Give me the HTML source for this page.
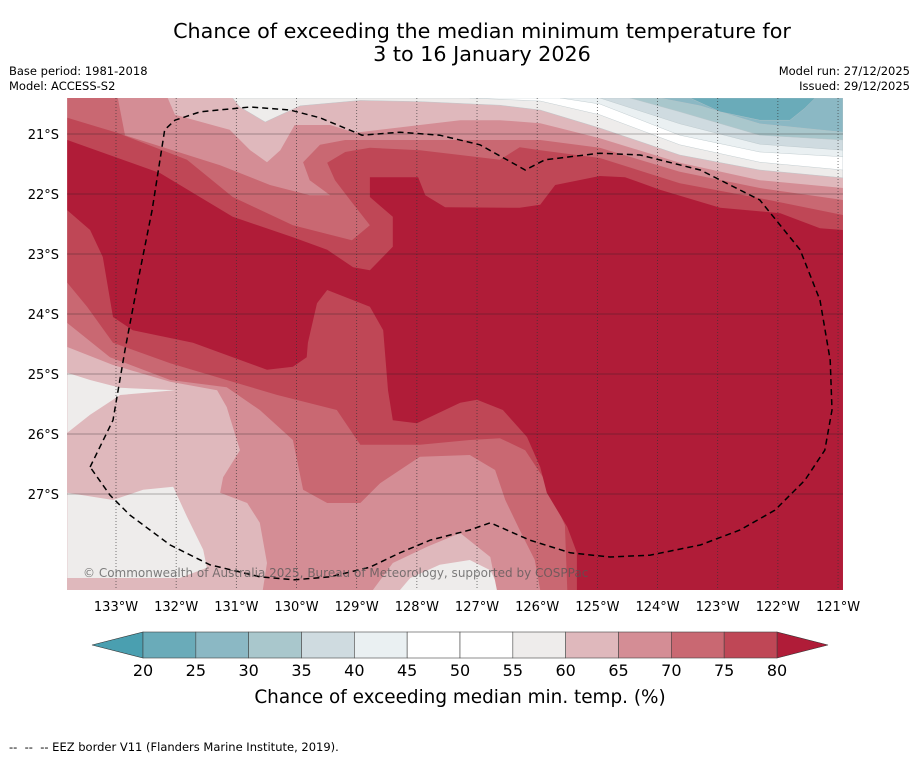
<!DOCTYPE html>
<html><head><meta charset="utf-8"><style>
html,body{margin:0;padding:0;background:#fff;}
svg{display:block;font-family:"DejaVu Sans","Liberation Sans",sans-serif;}
</style></head><body>
<svg id="chart" width="919" height="758" viewBox="0 0 919 758">
<text x="482" y="38" text-anchor="middle" font-size="20.7" fill="#000">Chance of exceeding the median minimum temperature for</text>
<text x="482" y="61" text-anchor="middle" font-size="20.7" fill="#000">3 to 16 January 2026</text>
<text x="9" y="75" font-size="11.5" fill="#000">Base period: 1981-2018</text>
<text x="9" y="90" font-size="11.5" fill="#000">Model: ACCESS-S2</text>
<text x="910" y="75" font-size="11.5" text-anchor="end" fill="#000">Model run: 27/12/2025</text>
<text x="910" y="90" font-size="11.5" text-anchor="end" fill="#000">Issued: 29/12/2025</text>
<defs><clipPath id="mapclip"><rect x="67" y="98" width="776" height="492"/></clipPath></defs>
<g id="map" clip-path="url(#mapclip)"></g>
<g id="grid"></g>
<g id="axes"></g>
<text x="83" y="577" font-size="12" fill="#555" fill-opacity="0.75">© Commonwealth of Australia 2025, Bureau of Meteorology, supported by COSPPac</text>
<g id="cbar"></g>
<text x="460" y="703" text-anchor="middle" font-size="18.4" fill="#000">Chance of exceeding median min. temp. (%)</text>
<text x="9" y="751" font-size="11.5" fill="#000" style="white-space:pre">--  --  -- EEZ border V11 (Flanders Marine Institute, 2019).</text>
</svg>
<script>
const lonTicks = [-133,-132,-131,-130,-129,-128,-127,-126,-125,-124,-123,-122,-121];
const latTicks = [21,22,23,24,25,26,27];
const levels = [20,25,30,35,40,45,50,55,60,65,70,75,80];
const levelColors = ["#6aabb9","#8bb8c4","#a9c7cc","#cfdbe0","#eaf0f2","#ffffff","#ffffff","#eeeceb","#dfb8bc","#d48d95","#c96872","#bf4756"];
const underColor = "#4a9fb0";
const overColor = "#b01c38";
const baseLevel = 60;
const patches60 = [
 [[-133.81,24.98],[-133.43,25.10],[-132.93,25.23],[-132.02,25.27],[-132.93,25.35],[-133.43,25.68],[-133.81,25.98]],
 [[-133.81,26.98],[-133.05,27.10],[-132.55,26.93],[-132.05,26.88],[-131.82,27.38],[-131.55,27.93],[-131.49,28.23],[-131.94,28.40],[-133.81,28.40]],
 [[-128.28,28.60],[-128.11,28.40],[-127.62,28.18],[-127.12,28.10],[-126.78,28.27],[-126.62,28.60]]
];
const region65 = [[-133.81,20.40],[-132.14,20.40],[-132.02,20.68],[-131.11,20.93],[-130.77,21.27],[-130.49,21.47],[-130.27,21.27],[-130.03,20.85],[-129.44,20.85],[-129.03,20.98],[-127.95,20.85],[-127.28,20.77],[-126.62,20.77],[-125.95,20.82],[-124.96,21.07],[-123.63,21.48],[-122.30,21.77],[-120.92,21.90],[-120.92,28.60],[-126.67,28.60],[-126.78,28.05],[-127.28,27.65],[-127.83,27.88],[-128.40,28.15],[-128.73,28.60],[-130.56,28.60],[-130.49,28.15],[-130.61,27.48],[-130.82,27.15],[-131.27,26.98],[-131.22,26.72],[-130.94,26.27],[-131.16,25.55],[-131.32,25.27],[-132.10,25.13],[-133.05,24.85],[-133.81,24.55]];
const region70 = [[-133.81,20.40],[-132.97,20.40],[-132.85,21.02],[-131.27,21.52],[-130.44,21.85],[-129.78,22.02],[-129.44,22.02],[-129.78,21.77],[-129.89,21.47],[-129.61,21.18],[-129.19,21.10],[-128.28,21.10],[-126.95,21.10],[-126.29,21.10],[-125.95,21.10],[-124.96,21.23],[-123.63,21.63],[-122.30,21.90],[-120.92,22.10],[-120.92,28.60],[-125.95,28.60],[-126.04,28.10],[-126.29,27.60],[-126.53,27.10],[-126.70,26.60],[-127.12,26.35],[-127.95,26.38],[-128.61,26.82],[-128.94,27.15],[-129.49,27.15],[-129.89,26.93],[-130.06,26.10],[-130.61,25.60],[-131.16,25.22],[-132.10,25.10],[-133.10,24.72],[-133.81,24.15]];
const region75 = [[-133.81,20.73],[-132.98,20.98],[-131.82,21.43],[-131.06,22.05],[-130.06,22.52],[-129.44,22.68],[-129.08,22.77],[-128.78,22.52],[-129.11,22.10],[-129.36,21.77],[-129.49,21.48],[-129.19,21.30],[-128.78,21.23],[-127.95,21.27],[-127.28,21.35],[-126.62,21.43],[-126.29,21.22],[-125.95,21.27],[-124.96,21.40],[-123.63,21.82],[-122.30,22.07],[-120.92,22.35],[-120.92,28.60],[-125.50,28.60],[-125.54,27.52],[-125.87,26.77],[-126.20,26.27],[-126.62,26.07],[-127.12,26.10],[-127.95,26.18],[-128.94,26.18],[-129.33,25.60],[-130.32,25.35],[-131.16,25.10],[-132.10,24.82],[-133.05,24.48],[-133.48,23.88],[-133.81,23.48]];
const region80 = [[-133.81,21.10],[-132.27,21.65],[-131.06,22.38],[-130.06,22.72],[-129.49,22.93],[-129.06,23.22],[-128.78,23.27],[-128.40,22.88],[-128.40,22.38],[-128.78,22.05],[-128.78,21.72],[-127.98,21.72],[-127.86,22.02],[-127.53,22.22],[-126.29,22.23],[-125.95,22.18],[-125.70,21.85],[-124.96,21.70],[-124.54,21.72],[-123.96,21.93],[-122.96,22.23],[-121.96,22.32],[-121.30,22.57],[-120.92,22.60],[-120.92,28.60],[-125.34,28.60],[-125.34,27.98],[-125.50,27.55],[-125.84,26.98],[-125.95,26.55],[-126.17,26.05],[-126.57,25.60],[-127.00,25.43],[-127.28,25.48],[-128.00,25.82],[-128.40,25.77],[-128.48,25.27],[-128.56,24.27],[-128.78,23.88],[-129.49,23.60],[-129.66,23.82],[-129.81,24.48],[-129.83,24.72],[-130.06,24.88],[-130.49,24.93],[-131.06,24.72],[-131.72,24.48],[-132.72,24.27],[-133.05,24.05],[-133.22,23.05],[-133.43,22.60],[-133.81,22.27]];
const below60 = [[-131.06,20.40],[-130.94,20.55],[-130.52,20.80],[-129.94,20.53],[-128.94,20.44],[-127.95,20.46],[-126.62,20.52],[-125.95,20.60],[-124.96,20.90],[-123.63,21.35],[-122.30,21.60],[-120.92,21.73]];
const below55 = [[-127.12,20.40],[-125.95,20.45],[-124.96,20.68],[-123.63,21.18],[-122.30,21.47],[-120.92,21.60]];
const below45 = [[-125.62,20.40],[-124.96,20.50],[-123.63,21.02],[-122.30,21.30],[-120.92,21.38]];
const below40 = [[-124.96,20.40],[-123.63,20.83],[-122.30,21.17],[-120.92,21.27]];
const below35 = [[-124.46,20.40],[-123.63,20.63],[-122.30,21.02],[-120.92,21.10]];
const below30 = [[-123.96,20.40],[-123.29,20.53],[-122.30,20.83],[-120.92,20.97]];
const below25 = [[-123.46,20.40],[-122.96,20.63],[-122.30,20.77],[-121.80,20.77],[-121.55,20.57],[-121.38,20.40]];
const eezBorder = [[-133.43,26.55],[-133.05,25.77],[-132.85,24.60],[-132.60,23.27],[-132.40,22.27],[-132.19,20.93],[-132.02,20.77],[-131.60,20.63],[-130.77,20.55],[-130.11,20.60],[-129.61,20.73],[-128.91,21.02],[-128.28,20.97],[-127.62,21.02],[-126.95,21.18],[-126.20,21.60],[-125.87,21.43],[-124.96,21.32],[-124.29,21.35],[-123.29,21.60],[-122.30,22.10],[-121.63,22.93],[-121.30,23.77],[-121.13,24.77],[-121.10,25.60],[-121.22,26.27],[-121.55,26.77],[-122.05,27.27],[-122.63,27.60],[-123.29,27.85],[-124.13,28.02],[-124.79,28.05],[-125.45,27.98],[-126.12,27.77],[-126.78,27.48],[-127.12,27.60],[-127.78,27.77],[-128.28,27.98],[-128.78,28.22],[-129.44,28.38],[-130.03,28.43],[-130.61,28.38],[-131.44,28.18],[-132.10,27.85],[-132.77,27.35],[-133.10,27.02],[-133.43,26.55]];

const NS = "http://www.w3.org/2000/svg";
const LON0=-133, LAT0=21, PXLON=60.17, PXLAT=60, X0=116, Y0=134;
const MAPL=67, MAPR=843, MAPT=98, MAPB=590;
function xs(lon){return X0+(lon-LON0)*PXLON;}
function ys(lat){return Y0+(lat-LAT0)*PXLAT;}
function colorFor(v){const i=levels.indexOf(v);return i>=0&&i<levelColors.length?levelColors[i]:overColor;}
function mk(tag,attrs,parent){const e=document.createElementNS(NS,tag);for(const k in attrs)e.setAttribute(k,attrs[k]);parent.appendChild(e);return e;}
function pts(arr){return arr.map(p=>xs(p[0]).toFixed(1)+","+ys(p[1]).toFixed(1)).join(" ");}
const map=document.getElementById("map");
let r=mk("rect",{x:MAPL,y:MAPT,width:MAPR-MAPL,height:MAPB-MAPT,fill:colorFor(baseLevel)},map);


patches60.forEach((p,i)=>{
 const e=mk("polygon",{points:pts(p),fill:colorFor(55)},map);
 
 
});
[[region65,65],[region70,70],[region75,75],[region80,80]].forEach(([reg,lv])=>{
 const e=mk("polygon",{points:pts(reg),fill:colorFor(lv)},map);
 
 
});
[[below60,55],[below55,45],[below45,40],[below40,35],[below35,30],[below30,25],[below25,20]].forEach(([curve,lv])=>{
 const top=20.40;
 const poly=curve.concat([[curve[curve.length-1][0],top]]);
 const e=mk("polygon",{points:pts(poly),fill:colorFor(lv),stroke:"#b8c4c8","stroke-width":0.4},map);
 
 
});
const grid=document.getElementById("grid");
lonTicks.forEach(l=>{
 const e=mk("line",{x1:xs(l),x2:xs(l),y1:MAPT,y2:MAPB,stroke:"#333","stroke-width":0.8,"stroke-dasharray":"1,2","stroke-opacity":0.8},grid);
 
 
});
latTicks.forEach(l=>{
 const e=mk("line",{x1:MAPL,x2:MAPR,y1:ys(l),y2:ys(l),stroke:"#222","stroke-width":0.8,"stroke-opacity":0.45},grid);
 
 
});
const eez=mk("polyline",{points:pts(eezBorder),fill:"none",stroke:"#000","stroke-width":1.5,"stroke-dasharray":"6,4"},grid);


const axes=document.getElementById("axes");
lonTicks.forEach(l=>{
 const t=mk("text",{x:xs(l),y:611,"text-anchor":"middle","font-size":13,fill:"#000"},axes);
 t.textContent=Math.abs(l)+"°W";
 
 
});
latTicks.forEach(l=>{
 const t=mk("text",{x:59,y:ys(l)+5,"text-anchor":"end","font-size":13,fill:"#000"},axes);
 t.textContent=l+"°S";
 
 
});
const cb=document.getElementById("cbar");
const CBL=143, CBR=777, CBT=632, CBB=658, CBTIPL=92, CBTIPR=828;
function cx(v){return CBL+(v-levels[0])/(levels[levels.length-1]-levels[0])*(CBR-CBL);}
let tri=mk("polygon",{points:`${CBTIPL},${(CBT+CBB)/2} ${CBL},${CBT} ${CBL},${CBB}`,fill:underColor,stroke:"#333","stroke-width":0.6},cb);


tri=mk("polygon",{points:`${CBTIPR},${(CBT+CBB)/2} ${CBR},${CBT} ${CBR},${CBB}`,fill:overColor,stroke:"#333","stroke-width":0.6},cb);


for(let i=0;i<levels.length-1;i++){
 const e=mk("rect",{x:cx(levels[i]),y:CBT,width:cx(levels[i+1])-cx(levels[i]),height:CBB-CBT,fill:levelColors[i],stroke:"#444","stroke-width":0.6},cb);
 
 
}
levels.forEach(v=>{
 const t=mk("text",{x:cx(v),y:676,"text-anchor":"middle","font-size":16,fill:"#000"},cb);
 t.textContent=v;
 
 
});
</script>
</body></html>
